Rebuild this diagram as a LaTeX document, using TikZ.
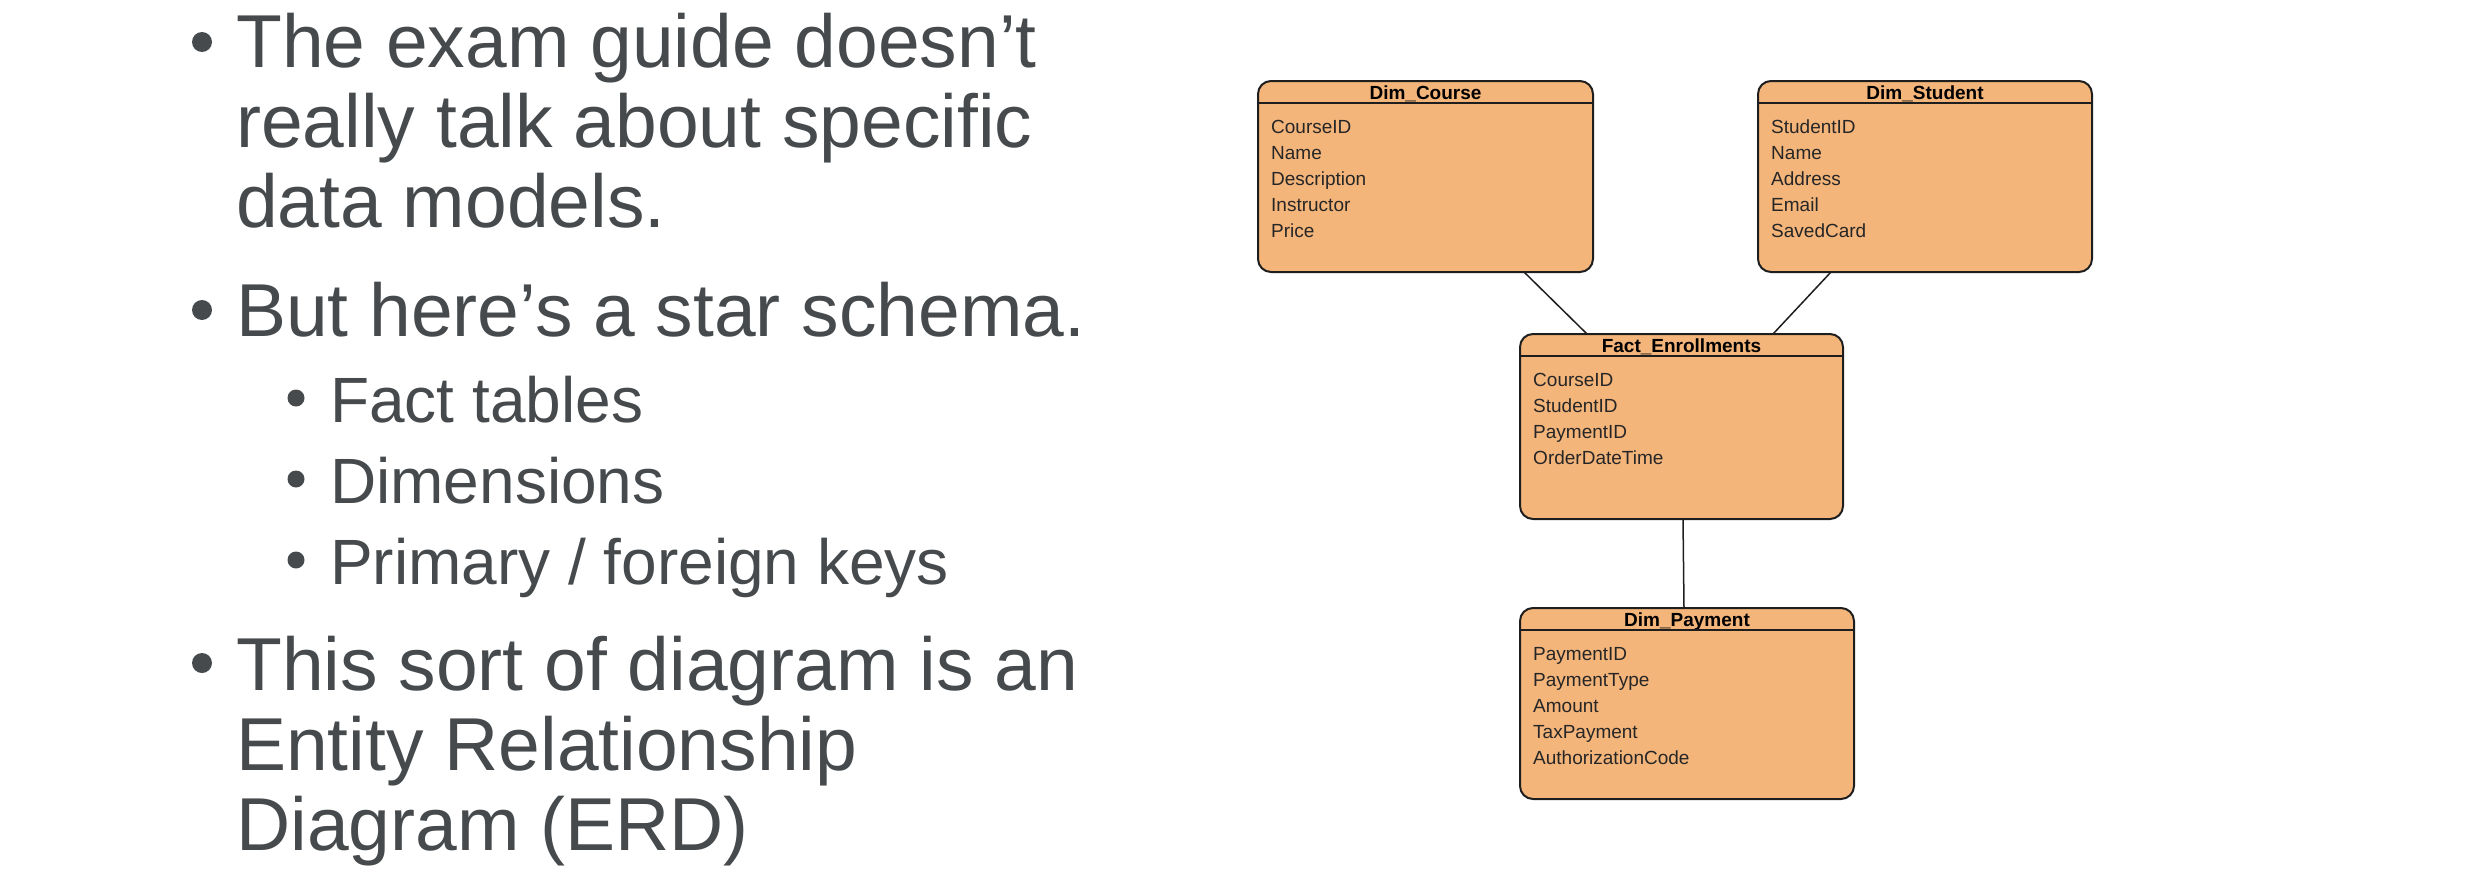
\documentclass[tikz,border=0pt]{standalone}
\usepackage{fontspec}
\setmainfont{Liberation Sans}
\definecolor{slidetext}{RGB}{70,74,76}
\definecolor{tablefill}{RGB}{244,181,123}
\definecolor{tableline}{RGB}{30,30,30}

% one text line per field, 26pt apart, below the title bar
\newcommand\tablefields[2]{%
  \foreach \t [count=\i] in {#2} {%
    \pgfmathsetmacro\dy{-52-(\i-1)*26}
    \node[field] (#1-\i) at ([xshift=13pt, yshift=\dy pt]#1.north west) {\t};
  }%
}

\begin{document}
\begin{tikzpicture}[x=1pt, y=-1pt,
  bigtext/.style={anchor=base west, inner sep=0pt, text=slidetext, font=\fontsize{75}{90}\selectfont},
  subtext/.style={anchor=base west, inner sep=0pt, text=slidetext, font=\fontsize{64}{77}\selectfont},
  bigdot/.style={circle, fill=slidetext, inner sep=0pt, minimum size=20pt},
  subdot/.style={circle, fill=slidetext, inner sep=0pt, minimum size=17pt},
  tablebox/.style={draw=tableline, line width=2pt, fill=tablefill, rounded corners=13pt,
    inner sep=0pt, outer sep=0pt},
  tabletitle/.style={anchor=base, inner sep=0pt, font=\bfseries\fontsize{19}{23}\selectfont, text=black},
  field/.style={anchor=base west, inner sep=0pt, font=\fontsize{19}{23}\selectfont, text=black!85},
  titlerule/.style={draw=tableline, line width=2pt},
  rel/.style={draw=tableline, line width=1.5pt},
]
\useasboundingbox (0,0) rectangle (2484,878);

% ---- bullet list ----
\node[bigdot] (b1) at (202,42) {};
\node[bigtext] (l1) at (236,67) {The exam guide doesn’t};
\node[bigtext] (l2) at (236,147) {really talk about specific};
\node[bigtext] (l3) at (236,227) {data models.};

\node[bigdot] (b2) at (202,310) {};
\node[bigtext] (l4) at (236,336) {But here’s a star schema.};

\node[subdot] (s1) at (296,398) {};
\node[subtext] (l5) at (330,422) {Fact tables};
\node[subdot] (s2) at (296,479) {};
\node[subtext] (l6) at (330,503) {Dimensions};
\node[subdot] (s3) at (296,560) {};
\node[subtext] (l7) at (330,584) {Primary / foreign keys};

\node[bigdot] (b3) at (202,663) {};
\node[bigtext] (l8) at (236,690) {This sort of diagram is an};
\node[bigtext] (l9) at (236,770) {Entity Relationship};
\node[bigtext] (l10) at (236,850) {Diagram (ERD)};

% ---- star schema tables ----
\node[tablebox, minimum width=335pt, minimum height=191pt] (course) at (1425.5,176.5) {};
\node[tablebox, minimum width=334pt, minimum height=191pt] (student) at (1925,176.5) {};
\node[tablebox, minimum width=323pt, minimum height=185pt] (fact) at (1681.5,426.5) {};
\node[tablebox, minimum width=334pt, minimum height=191pt] (payment) at (1687,703.5) {};

\foreach \tb/\title in {course/Dim\_Course, student/Dim\_Student,
                        fact/Fact\_Enrollments, payment/Dim\_Payment} {
  \node[tabletitle] (\tb-title) at ([yshift=-18pt]\tb.north) {\title};
  \draw[titlerule] ([yshift=-22pt]\tb.north west) -- ([yshift=-22pt]\tb.north east);
}

\tablefields{course}{CourseID,Name,Description,Instructor,Price}
\tablefields{student}{StudentID,Name,Address,Email,SavedCard}
\tablefields{fact}{CourseID,StudentID,PaymentID,OrderDateTime}
\tablefields{payment}{PaymentID,PaymentType,Amount,TaxPayment,AuthorizationCode}

% ---- relationships ----
\draw[rel] ([xshift=266pt]course.south west) -- ([xshift=67pt]fact.north west);
\draw[rel] ([xshift=73pt]student.south west) -- ([xshift=253pt]fact.north west);
\draw[rel] ([xshift=163pt]fact.south west) -- ([xshift=164pt]payment.north west);
\end{tikzpicture}
\end{document}
